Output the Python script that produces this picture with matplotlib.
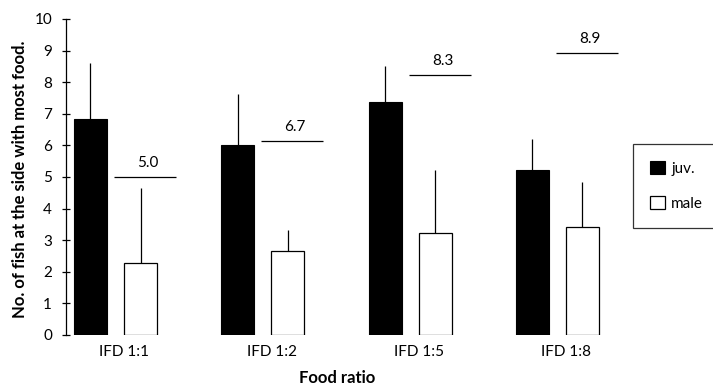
import matplotlib
matplotlib.use('Agg')
import matplotlib.pyplot as plt
import numpy as np

# data
groups = ['IFD 1:1', 'IFD 1:2', 'IFD 1:5', 'IFD 1:8']
juv = [6.82, 6.01, 7.38, 5.22]
juv_err = [1.78, 1.61, 1.13, 0.98]
male = [2.27, 2.67, 3.24, 3.41]
male_err = [2.39, 0.65, 1.98, 1.42]
ifd_labels = ['5.0', '6.7', '8.3', '8.9']
ifd_lines = [5.0, 6.15, 8.23, 8.91]

plt.rcParams['font.family'] = ['Lato', 'DejaVu Sans']

fig = plt.figure(figsize=(7.13, 3.85), dpi=100)
ax = fig.add_axes([66 / 713, 50 / 385, 647 / 713, 316 / 385])

x = np.arange(len(groups))
w = 0.224
off = 0.17

ax.bar(x - off, juv, w, color='black', edgecolor='black', linewidth=0.8,
       yerr=[np.zeros(4), juv_err], error_kw={'elinewidth': 0.9, 'capsize': 0},
       label='juv.')
ax.bar(x + off, male, w, color='white', edgecolor='black', linewidth=0.9,
       yerr=[np.zeros(4), male_err], error_kw={'elinewidth': 0.9, 'capsize': 0},
       label='male')

# ideal free distribution predictions
for i in range(len(groups)):
    ax.hlines(ifd_lines[i], x[i] - 0.01, x[i] + 0.41, color='black', linewidth=0.9)
    ax.annotate(ifd_labels[i], (x[i] + 0.22, ifd_lines[i]), xytext=(0, 5),
                textcoords='offset points', ha='center', va='bottom', fontsize=11)

ax.set_xlim(-0.336, 4.056)
ax.set_ylim(0, 10)
ax.set_yticks(range(0, 11))
ax.tick_params(axis='y', direction='inout', length=6, width=0.9, labelsize=11, pad=7)
ax.set_xticks(x + 0.06)
ax.set_xticklabels(groups, fontsize=11)
ax.tick_params(axis='x', length=0, pad=7)

for s in ['top', 'right', 'bottom']:
    ax.spines[s].set_visible(False)
ax.spines['left'].set_linewidth(0.9)

fig.text(20 / 713, 1 - 179 / 385, 'No. of fish at the side with most food.',
         rotation=90, ha='center', va='center', fontsize=12, fontweight='bold')
fig.text(337 / 713, 1 - 378 / 385, 'Food ratio', ha='center', va='center',
         fontsize=12, fontweight='bold')

leg = fig.legend(loc='upper left', bbox_to_anchor=(633 / 713, 1 - 144 / 385),
                 frameon=True, fancybox=False, edgecolor='black', fontsize=11,
                 handlelength=1.0, handleheight=1.0, labelspacing=1.3,
                 borderpad=1.1, handletextpad=0.4, borderaxespad=0)
leg.get_frame().set_linewidth(0.9)

fig.savefig('out.png', dpi=100)
